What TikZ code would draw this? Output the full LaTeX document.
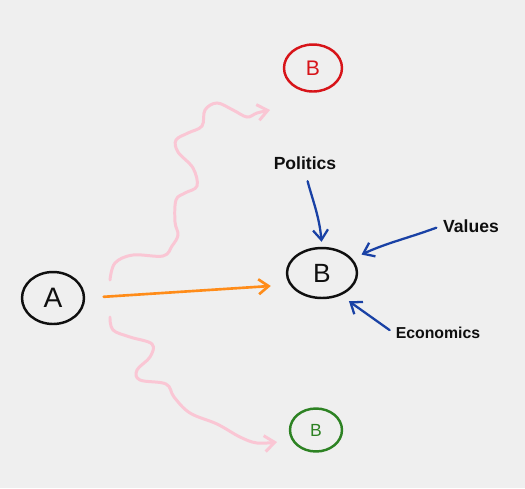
\documentclass[tikz,border=0pt]{standalone}
\usepackage{fontspec}
\setmainfont{Liberation Sans}
\usetikzlibrary{arrows.meta,positioning,shapes.geometric}
\definecolor{paperGray}{RGB}{239,239,239}
\definecolor{inkBlack}{RGB}{15,15,15}
\definecolor{penRed}{RGB}{215,20,25}
\definecolor{penGreen}{RGB}{45,130,35}
\definecolor{penBlue}{RGB}{25,65,165}
\definecolor{penOrange}{RGB}{255,140,25}
\definecolor{penPink}{RGB}{250,198,212}
\tikzset{
  sketch node/.style={ellipse,draw=inkBlack,line width=1.4pt,inner sep=0pt,text=inkBlack,minimum width=1.4cm,minimum height=1cm,font=\fontsize{15}{15}\selectfont},
  sketch node red/.style={sketch node,draw=penRed,text=penRed,minimum width=1.16cm,minimum height=0.94cm,font=\fontsize{12}{12}\selectfont},
  sketch node green/.style={sketch node,draw=penGreen,text=penGreen,minimum width=1.04cm,minimum height=0.86cm,font=\fontsize{10}{10}\selectfont},
  sketch label/.style={text=inkBlack,inner sep=1pt,font=\bfseries\fontsize{10}{12}\selectfont},
  sketch arrow blue/.style={-{Straight Barb[length=2mm,width=3mm]},line width=1.3pt,draw=penBlue,line cap=round},
  sketch arrow orange/.style={-{Straight Barb[length=2mm,width=3mm]},line width=1.5pt,draw=penOrange,line cap=round},
  sketch arrow pink/.style={-{Straight Barb[length=2mm,width=3.2mm]},line width=1.7pt,draw=penPink,line cap=round}
}

\begin{document}
\begin{tikzpicture}[x=0.02cm,y=-0.02cm]
  \fill[paperGray] (0,0) rectangle (525,488);
  \useasboundingbox (0,0) rectangle (525,488);
  % the nodes
  \node[sketch node,minimum width=1.24cm,minimum height=1.04cm,font=\fontsize{16}{16}\selectfont] (A) at (53,298) {A};
  \node[sketch node] (Bmid) at (322,273) {B};
  \node[sketch node red] (Btop) at (313,68) {B};
  \node[sketch node green] (Bbot) at (316,430) {B};
  \node[sketch label] (politics) at (305,163) {Politics};
  \node[sketch label] (values) at (471,226) {Values};
  \node[sketch label,font=\bfseries\fontsize{9}{11}\selectfont] (economics) at (438,333) {Economics};
  % ends of the wiggly paths
  \coordinate (upStart) at (110,280);
  \coordinate (upEnd) at (270,110);
  \coordinate (downStart) at (110,317);
  \coordinate (downEnd) at (277,442);
  % connectors
  \draw[sketch arrow orange,shorten <=0.37cm,shorten >=0.3cm] (A.east) -- ([shift={(0,12)}]Bmid.west);
  \draw[sketch arrow blue,shorten <=2mm,shorten >=1mm] (politics.south) to[out=-75,in=95] (Bmid.north);
  \draw[sketch arrow blue,shorten <=1mm,shorten >=2mm] (values.west) to[out=200,in=25] (Bmid.25);
  \draw[sketch arrow blue,shorten <=1mm,shorten >=2mm] (economics.west) -- (Bmid.-50);
  \draw[sketch arrow pink] plot[smooth,tension=0.6] coordinates {(upStart) (115,263) (133,255) (163,256) (172,246) (178,235) (175,222) (176,200) (185,193) (197,186) (193,168) (178,152) (176,140) (188,133) (202,126) (205,110) (217,103) (233,110) (247,117) (257,113) (upEnd)};
  \draw[sketch arrow pink] plot[smooth,tension=0.6] coordinates {(downStart) (113,330) (130,337) (152,344) (150,357) (137,370) (140,380) (166,384) (174,397) (190,413) (217,424) (240,437) (257,443) (downEnd)};
\end{tikzpicture}
\end{document}
